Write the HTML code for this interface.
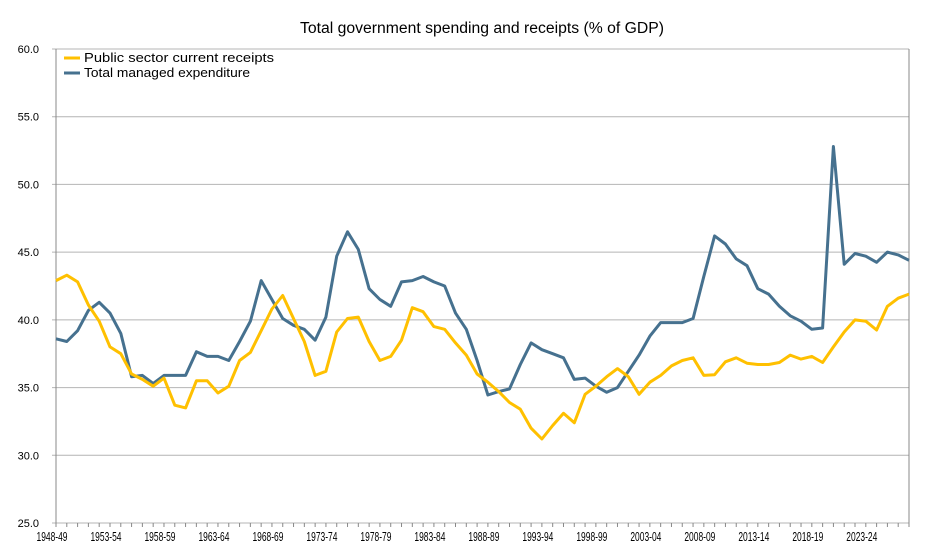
<!DOCTYPE html>
<html><head><meta charset="utf-8"><style>
html,body{margin:0;padding:0;background:#fff;}
svg{display:block;font-family:"Liberation Sans",sans-serif;}
</style></head><body>
<svg id="chart" width="925" height="558" viewBox="0 0 925 558">
<text x="482" y="33" text-anchor="middle" font-size="15.5" textLength="364" lengthAdjust="spacingAndGlyphs" fill="#000">Total government spending and receipts (% of GDP)</text>
<g id="grid"></g>
<g id="yticks"></g>
<g id="xticks"></g>
<g id="series"></g>
<g>
<line x1="64" y1="58" x2="80" y2="58" stroke="#FFC000" stroke-width="3"/>
<text x="84" y="62" font-size="13" textLength="190" lengthAdjust="spacingAndGlyphs">Public sector current receipts</text>
<line x1="64" y1="73" x2="80" y2="73" stroke="#46718F" stroke-width="3"/>
<text x="84" y="77" font-size="13" textLength="166" lengthAdjust="spacingAndGlyphs">Total managed expenditure</text>
</g>
</svg>
<script>
const startYear = 1948;
const yTicks = [25, 30, 35, 40, 45, 50, 55, 60];
const xLabelEvery = 5;
const receipts = [42.9,43.3,42.8,41.1,39.9,38.0,37.5,36.0,35.6,35.1,35.7,33.7,33.5,35.5,35.5,34.6,35.1,37.0,37.6,39.2,40.8,41.8,40.1,38.4,35.9,36.2,39.1,40.1,40.2,38.4,37.0,37.3,38.5,40.9,40.6,39.5,39.3,38.3,37.4,36.0,35.4,34.7,33.9,33.4,32.0,31.2,32.2,33.1,32.4,34.5,35.1,35.8,36.4,35.8,34.5,35.4,35.9,36.6,37.0,37.2,35.9,35.95,36.9,37.2,36.8,36.7,36.7,36.85,37.4,37.1,37.3,36.85,38.0,39.1,40.0,39.9,39.25,41.0,41.6,41.9];
const expenditure = [38.6,38.4,39.2,40.7,41.3,40.5,39.0,35.8,35.9,35.3,35.9,35.9,35.9,37.65,37.3,37.3,37.0,38.4,39.9,42.9,41.5,40.1,39.6,39.3,38.5,40.2,44.7,46.5,45.2,42.3,41.5,41.0,42.8,42.9,43.2,42.8,42.5,40.5,39.3,37.0,34.45,34.7,34.9,36.7,38.3,37.8,37.5,37.2,35.6,35.7,35.1,34.65,35.0,36.2,37.4,38.8,39.8,39.8,39.8,40.1,43.2,46.2,45.6,44.5,44.0,42.3,41.9,41.0,40.3,39.9,39.3,39.4,52.8,44.1,44.9,44.7,44.25,45.0,44.8,44.4];

const NS='http://www.w3.org/2000/svg';
const L=56,R=909,T=49,B=523,yMin=25,yMax=60;
const n=receipts.length;
function xPos(i){return L+(R-L)*i/(n-1);}
function yPos(v){return B-(v-yMin)/(yMax-yMin)*(B-T);}
function mk(tag,attrs,parent){const e=document.createElementNS(NS,tag);for(const k in attrs)e.setAttribute(k,attrs[k]);parent.appendChild(e);return e;}
const grid=document.getElementById('grid'),yt=document.getElementById('yticks'),xt=document.getElementById('xticks'),ser=document.getElementById('series');
yTicks.forEach(v=>{
  const g=mk('line',{x1:L-4,x2:R,y1:yPos(v),y2:yPos(v),stroke:'#b4b4b4','stroke-width':1},grid);
  
  
  const t=mk('text',{x:L-17,y:yPos(v)+4,'text-anchor':'end','font-size':11},yt);
  t.textContent=v.toFixed(1);
  
  
});
const ax=mk('line',{x1:L,x2:L,y1:T,y2:B+4,stroke:'#888','stroke-width':1},grid);


const rb=mk('line',{x1:R,x2:R,y1:T,y2:B,stroke:'#888','stroke-width':1},grid);


for(let i=0;i<n;i++){
  const tk=mk('line',{x1:xPos(i),x2:xPos(i),y1:B,y2:B+4,stroke:'#888','stroke-width':1},grid);
  
  
  if(i%xLabelEvery===0){
    const y=startYear+i;
    const t=mk('text',{x:xPos(i)-4,y:541,'text-anchor':'middle','font-size':12.5,textLength:31,lengthAdjust:'spacingAndGlyphs'},xt);
    t.textContent=y+'-'+String((y+1)%100).padStart(2,'0');
    
    
  }
}
function line(data,color,name){
  const p=mk('polyline',{points:data.map((v,i)=>xPos(i).toFixed(1)+','+yPos(v).toFixed(1)).join(' '),fill:'none',stroke:color,'stroke-width':3,'stroke-linejoin':'round'},ser);
  
  
}
line(expenditure,'#46718F','expenditure-line');
line(receipts,'#FFC000','receipts-line');
</script>
</body></html>
